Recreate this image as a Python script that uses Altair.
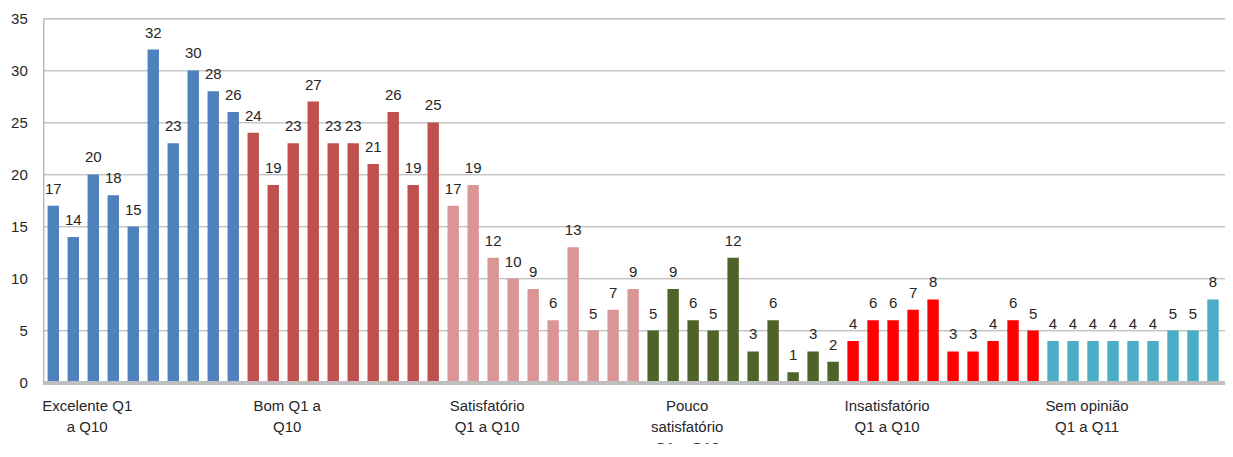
import altair as alt
import pandas as pd

groups = ["Excelente", "Bom", "Satisfatório", "Pouco satisfatório", "Insatisfatório", "Sem opinião"]
group_labels = [
    "Excelente Q1\na Q10",
    "Bom Q1 a\nQ10",
    "Satisfatório\nQ1 a Q10",
    "Pouco\nsatisfatório\nQ1 a Q10",
    "Insatisfatório\nQ1 a Q10",
    "Sem opinião\nQ1 a Q11",
]
colors = ["#4F81BD", "#C0504D", "#DA9694", "#4F6228", "#FF0000", "#4BACC6"]
questions_per_group = [10, 10, 10, 10, 10, 11]

excelente = [17, 14, 20, 18, 15, 32, 23, 30, 28, 26]
bom = [24, 19, 23, 27, 23, 23, 21, 26, 19, 25]
satisfatorio = [17, 19, 12, 10, 9, 6, 13, 5, 7, 9]
pouco = [5, 9, 6, 5, 12, 3, 6, 1, 3, 2]
insatisfatorio = [4, 6, 6, 7, 8, 3, 3, 4, 6, 5]
sem_opiniao = [4, 4, 4, 4, 4, 4, 5, 5, 8, 4]

series = [excelente, bom, satisfatorio, pouco, insatisfatorio, sem_opiniao]

ids = []
for g, n in zip(groups, questions_per_group):
    for q in range(1, n + 1):
        ids.append(f"{g}|Q{q}")

rows = []
for g, vals in zip(groups, series):
    for q, v in enumerate(vals, start=1):
        rows.append({"id": f"{g}|Q{q}", "grupo": g, "valor": v})
df = pd.DataFrame(rows)

lab_df = pd.DataFrame({
    "id": [f"{g}|Q3" for g in groups],
    "label": group_labels,
})

FONT = "Liberation Sans"
TXT = "#262626"

xscale = alt.Scale(domain=ids, range=[0, 1220], paddingInner=0.43, paddingOuter=0.215)
yscale = alt.Scale(domain=[0, 35])

bars = alt.Chart(df).mark_bar(clip=True).encode(
    x=alt.X("id:N", scale=xscale, axis=None, sort=ids),
    y=alt.Y("valor:Q", scale=yscale,
            axis=alt.Axis(values=[0, 5, 10, 15, 20, 25, 30, 35], title=None, grid=True,
                          gridColor="#ABABAB", gridWidth=1, domainColor="#A6A6A6",
                          ticks=False, labelPadding=16, labelFont=FONT,
                          labelFontSize=15, labelColor=TXT)),
    color=alt.Color("grupo:N", scale=alt.Scale(domain=groups, range=colors), legend=None),
)

zero = alt.Chart(df).mark_rule(color="#BFBFBF", strokeWidth=3).encode(y=alt.datum(0))

values = alt.Chart(df).mark_text(font=FONT, fontSize=15, color=TXT, baseline="alphabetic", dy=-12).encode(
    x=alt.X("id:N", scale=xscale, sort=ids),
    y=alt.Y("valor:Q", scale=yscale),
    text=alt.Text("valor:Q"),
)

cats = alt.Chart(lab_df).mark_text(font=FONT, fontSize=15, color=TXT, baseline="top", align="center",
                                   lineBreak="\n", lineHeight=21, dy=16, dx=-6).encode(
    x=alt.X("id:N", scale=xscale, sort=ids),
    y=alt.datum(0),
    text="label:N",
)

chart = alt.layer(bars, zero, values, cats).properties(
    width=1182,
    height=364.4,
    autosize=alt.AutoSizeParams(type="none"),
    padding={"left": 35.3, "top": 10.3, "right": 0, "bottom": 61},
).configure_view(strokeWidth=0).configure(background="white")

chart.save("out.html", embed_options={"renderer": "svg", "actions": False})
